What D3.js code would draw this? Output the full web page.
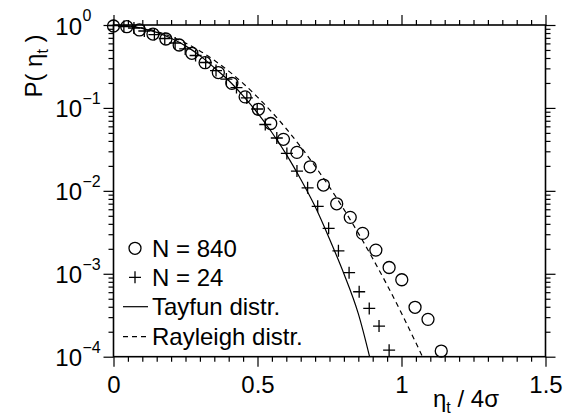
<!DOCTYPE html>
<html><head><meta charset="utf-8">
<script src="https://cdn.jsdelivr.net/npm/d3@7"></script>
<style>
body{margin:0;background:#fff}
text{font-family:"Liberation Sans",Arial,Helvetica,sans-serif;fill:#000}
</style>
</head><body>
<svg id="c" width="574" height="420"></svg>
<script>
// ---- data ----
const circX = [0,0.046,0.090,0.137,0.182,0.228,0.272,0.318,0.364,0.411,0.457,0.503,0.546,0.590,0.637,0.683,0.729,0.775,0.822,0.865,0.911,0.957,1.001,1.047,1.092,1.138];
const circP = [0.973,0.954,0.871,0.778,0.678,0.574,0.456,0.351,0.267,0.198,0.136,0.0962,0.0649,0.0418,0.0291,0.0195,0.01175,0.00698,0.00479,0.00307,0.00193,0.00119,0.000847,0.000394,0.000282,0.000117];
const plusX = [0,0.036,0.071,0.107,0.142,0.178,0.214,0.249,0.285,0.320,0.356,0.392,0.427,0.463,0.499,0.527,0.567,0.602,0.637,0.674,0.709,0.747,0.781,0.818,0.853,0.888,0.922,0.957];
const plusP = [0.986,0.959,0.920,0.847,0.767,0.687,0.607,0.514,0.429,0.353,0.282,0.223,0.176,0.132,0.0970,0.0631,0.0434,0.0283,0.01734,0.01089,0.0065,0.00353,0.00189,0.00103,0.000607,0.000382,0.000234,0.000120];
const tayX = [0,0.05,0.1,0.15,0.2,0.25,0.3,0.35,0.4,0.45,0.5,0.55,0.6,0.65,0.7,0.75,0.8,0.85,0.9];
const tayP = [1,0.978,0.912,0.815,0.692,0.56,0.427,0.305,0.214,0.140,0.0871,0.0505,0.0275,0.0138,0.00646,0.00263,0.00100,0.00033,0.00007];
const rayX = [0,0.05,0.1,0.15,0.2,0.25,0.3,0.35,0.4,0.45,0.5,0.55,0.6,0.65,0.7,0.75,0.8,0.85,0.9,0.95,1.0,1.05,1.08];
const rayP = [1,0.980,0.923,0.835,0.726,0.607,0.487,0.375,0.278,0.198,0.135,0.0889,0.0561,0.0340,0.0198,0.0111,0.00598,0.00309,0.00153,0.000732,0.000335,0.000147,0.0000886];
const xTickVals = [0,0.5,1,1.5];
const xTickLabels = ["0","0.5","1","1.5"];
const yTickVals = [1,1e-1,1e-2,1e-3,1e-4];
const yTickExps = ["0","\u22121","\u22122","\u22123","\u22124"];
const legendLabels = ["N = 840","N = 24","Tayfun distr.","Rayleigh distr."];

// ---- layout ----
const L = 113.5, R = 545.5, T = 25, B = 356.7;
const svg = d3.select("#c");
const x = d3.scaleLinear().domain([0,1.5]).range([L,R]);
const y = d3.scaleLog().domain([1e-4,1]).range([B,T]);

const xMinor = d3.range(0,1.5001,0.05).filter(v=>Math.abs(v*2-Math.round(v*2))>1e-6);
const yMinor = [];
for (let e=-4;e<0;e++) for (let m=2;m<=9;m++) yMinor.push(m*Math.pow(10,e));

function axisG(gen, tx, ty){
  const g = svg.append("g").attr("transform",`translate(${tx},${ty})`).call(gen);
  g.select(".domain").remove();
  g.selectAll(".tick line").attr("stroke","#000").attr("stroke-width",1.2);
  return g;
}
// bottom
axisG(d3.axisBottom(x).tickValues(xMinor).tickSize(5).tickFormat(""),0,B);
const bx = axisG(d3.axisBottom(x).tickValues(xTickVals).tickSize(10).tickPadding(9).tickFormat((d,i)=>xTickLabels[i]),0,B);
bx.selectAll("text").attr("font-size",24).attr("font-family","Liberation Sans, Arial, sans-serif");
// top
axisG(d3.axisTop(x).tickValues(xMinor).tickSize(5).tickFormat(""),0,T);
axisG(d3.axisTop(x).tickValues(xTickVals).tickSize(10).tickFormat(""),0,T);
// left
axisG(d3.axisLeft(y).tickValues(yMinor).tickSize(5).tickFormat(""),L,0);
axisG(d3.axisLeft(y).tickValues(yTickVals).tickSize(10).tickFormat(""),L,0);
// right
axisG(d3.axisRight(y).tickValues(yMinor).tickSize(5).tickFormat(""),R,0);
axisG(d3.axisRight(y).tickValues(yTickVals).tickSize(10).tickFormat(""),R,0);

// frame
svg.append("rect").attr("x",L).attr("y",T).attr("width",R-L).attr("height",B-T)
  .attr("fill","none").attr("stroke","#000").attr("stroke-width",1.6);

// y labels with superscripts
yTickVals.forEach((v,i)=>{
  const yy = y(v);
  svg.append("text").attr("x",82).attr("y",yy+9.5).attr("text-anchor","end").attr("font-size",24).text("10");
  svg.append("text").attr("x",82.5).attr("y",yy-4).attr("font-size",16).text(yTickExps[i]);
});

// axis titles
const yt = svg.append("text").attr("transform","translate(42,66) rotate(-90)").attr("text-anchor","middle").attr("font-size",24);
yt.append("tspan").text("P( \u03b7");
yt.append("tspan").attr("font-size",16).attr("dy",6).text("t");
yt.append("tspan").attr("dy",-6).text(" )");

const xt = svg.append("text").attr("x",433).attr("y",407).attr("font-size",24);
xt.append("tspan").text("\u03b7");
xt.append("tspan").attr("font-size",16).attr("dy",6).text("t");
xt.append("tspan").attr("dy",-6).text(" / 4\u03c3");

// clip
svg.append("clipPath").attr("id","clip").append("rect").attr("x",L).attr("y",T).attr("width",R-L).attr("height",B-T);

const line = d3.line().x(d=>x(d[0])).y(d=>y(d[1])).curve(d3.curveMonotoneX);
svg.append("path").attr("clip-path","url(#clip)").attr("d",line(tayX.map((v,i)=>[v,tayP[i]])))
  .attr("fill","none").attr("stroke","#000").attr("stroke-width",1.2);
svg.append("path").attr("clip-path","url(#clip)").attr("d",line(rayX.map((v,i)=>[v,rayP[i]])))
  .attr("fill","none").attr("stroke","#000").attr("stroke-width",1.2).attr("stroke-dasharray","5,4");

// markers
svg.append("g").selectAll("circle").data(circX.map((v,i)=>[v,circP[i]])).join("circle")
  .attr("cx",d=>x(d[0])).attr("cy",d=>y(d[1])).attr("r",6)
  .attr("fill","none").attr("stroke","#000").attr("stroke-width",1.3);
const ps = 6;
svg.append("g").selectAll("path").data(plusX.map((v,i)=>[v,plusP[i]])).join("path")
  .attr("d",d=>{const cx=x(d[0]),cy=y(d[1]);return `M${cx-ps},${cy}H${cx+ps}M${cx},${cy-ps}V${cy+ps}`;})
  .attr("fill","none").attr("stroke","#000").attr("stroke-width",1.3);

// legend
const lgY = [248.3,277.3,306.7,336.7];
const lg = svg.append("g");
lg.append("circle").attr("cx",135).attr("cy",lgY[0]).attr("r",6).attr("fill","none").attr("stroke","#000").attr("stroke-width",1.3);
lg.append("path").attr("d",`M${135-ps},${lgY[1]}H${135+ps}M135,${lgY[1]-ps}V${lgY[1]+ps}`).attr("stroke","#000").attr("stroke-width",1.3);
lg.append("line").attr("x1",123).attr("x2",148).attr("y1",lgY[2]).attr("y2",lgY[2]).attr("stroke","#000").attr("stroke-width",1.2);
lg.append("line").attr("x1",123).attr("x2",148).attr("y1",lgY[3]).attr("y2",lgY[3]).attr("stroke","#000").attr("stroke-width",1.2).attr("stroke-dasharray","5,4");
legendLabels.forEach((t,i)=>{
  lg.append("text").attr("x",152).attr("y",lgY[i]+8.5).attr("font-size",24).text(t);
});
</script>
</body></html>
